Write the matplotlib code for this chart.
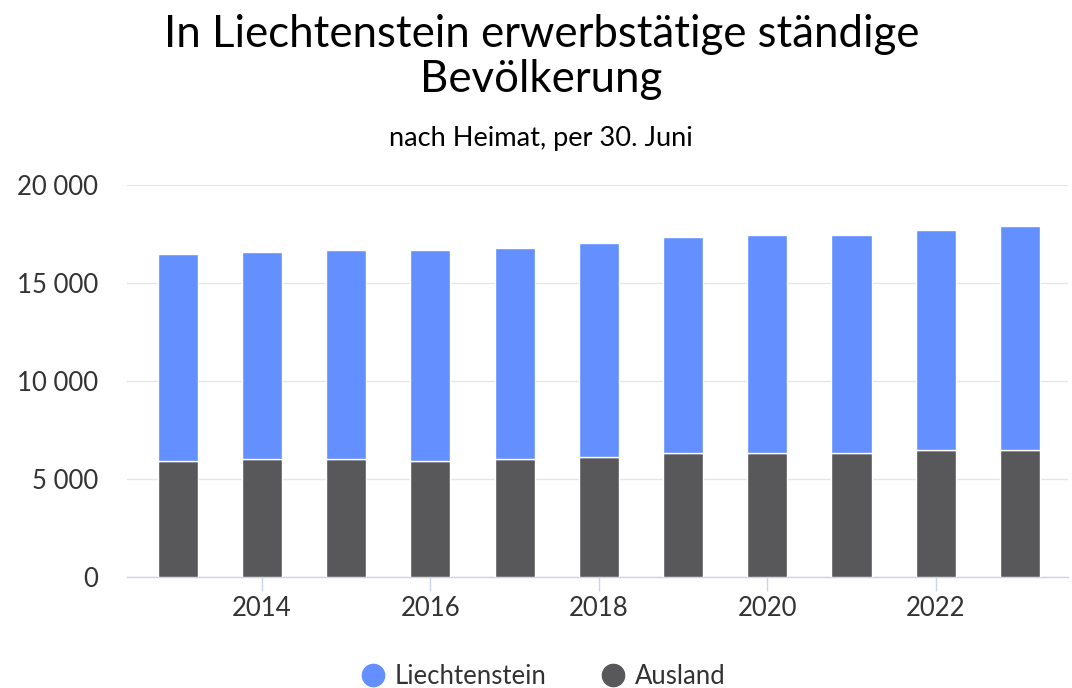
import matplotlib.pyplot as plt
from matplotlib.lines import Line2D
from matplotlib.ticker import FuncFormatter

plt.rcParams['font.family'] = ['Lato', 'DejaVu Sans']

# Werte
years = [2013, 2014, 2015, 2016, 2017, 2018, 2019, 2020, 2021, 2022, 2023]
ausland = [5930, 6020, 6020, 5930, 6020, 6120, 6310, 6310, 6310, 6490, 6490]
liechtenstein = [10560, 10560, 10640, 10730, 10750, 10930, 11020, 11120, 11120, 11220, 11420]

series_names = ['Liechtenstein', 'Ausland']
colors = {'Liechtenstein': '#648fff', 'Ausland': '#58585a'}

fig = plt.figure(figsize=(10.72, 6.88), dpi=100)
ax = fig.add_axes([127 / 1072, 1 - 577 / 688, (1068 - 127) / 1072, (577 - 185) / 688])

w = 0.475
ax.bar(years, ausland, width=w, color=colors['Ausland'], edgecolor='white', linewidth=1, zorder=3)
ax.bar(years, liechtenstein, width=w, bottom=ausland, color=colors['Liechtenstein'],
       edgecolor='white', linewidth=1, zorder=3)

ax.set_xlim(2012.4, 2023.57)
ax.set_ylim(0, 20000)
ax.set_yticks([0, 5000, 10000, 15000, 20000])
ax.yaxis.set_major_formatter(FuncFormatter(lambda v, p: f'{int(v):,}'.replace(',', ' ')))
ax.set_xticks([2014, 2016, 2018, 2020, 2022])

ax.grid(axis='y', color='#e6e6e6', linewidth=1, zorder=0)
for s in ['top', 'right', 'left']:
    ax.spines[s].set_visible(False)
ax.spines['bottom'].set_color('#ccd6eb')
ax.spines['bottom'].set_linewidth(1)
ax.tick_params(axis='y', length=0, pad=21, labelsize=18.5, labelcolor='#333333')
ax.tick_params(axis='x', length=10, width=1, color='#ccd6eb', pad=4, labelsize=18.5,
               labelcolor='#333333')

fig.text(0.505, 0.950, 'In Liechtenstein erwerbstätige ständige', ha='center', va='center',
         fontsize=31.5, color='#000000')
fig.text(0.505, 0.885, 'Bevölkerung', ha='center', va='center', fontsize=31.5, color='#000000')
fig.text(0.505, 0.798, 'nach Heimat, per 30. Juni', ha='center', va='center', fontsize=19.6,
         color='#000000')

handles = [Line2D([], [], marker='o', linestyle='none', markersize=16,
                  markerfacecolor=colors[n], markeredgecolor=colors[n]) for n in series_names]
fig.legend(handles, series_names, loc='center', bbox_to_anchor=(0.505, 0.016), ncol=2,
           frameon=False, fontsize=18.5, handletextpad=0.25, columnspacing=2.0,
           labelcolor='#333333', handlelength=1.2)

fig.savefig('out.png', dpi=100)
